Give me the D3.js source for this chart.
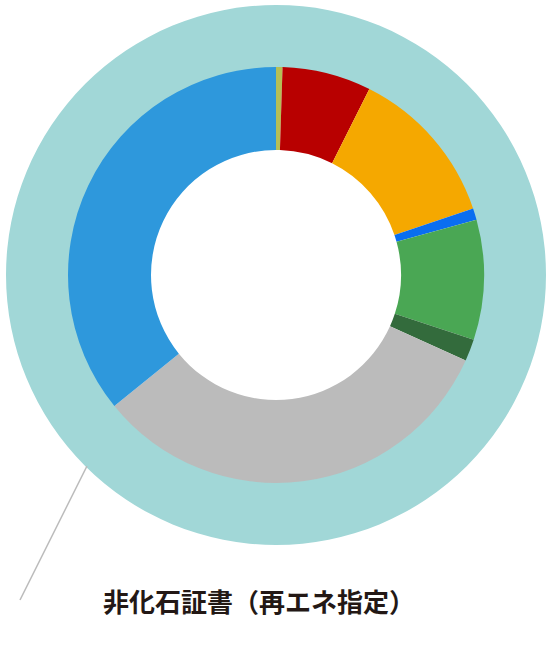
<!DOCTYPE html>
<html><head><meta charset="utf-8">
<script src="https://cdn.jsdelivr.net/npm/d3@7"></script>
<style>html,body{margin:0;padding:0;background:#fff;}</style>
</head><body>
<svg id="c" width="554" height="658"></svg>
<script>
const categories = ["olive","red","orange","blueThin","green","darkGreen","gray","blue"];
const values = [0.5, 6.9, 12.4, 0.9, 9.3, 1.7, 32.4, 35.8];
const colors = ["#b5bf55","#b80000","#f5a800","#0a6ef0","#4aa754","#336b3c","#bbbbbb","#2e98dc"];
const outerLabel = "非化石証書（再エネ指定）";
const outerValues = [100];

const svg = d3.select("#c");
const cx = 276, cy = 275;
const g = svg.append("g").attr("transform", `translate(${cx},${cy})`);

// outer ring (full)
const outerPie = d3.pie().sort(null)(outerValues);
g.selectAll("path.outer").data(outerPie).join("path")
  .attr("class","outer")
  .attr("d", d3.arc().innerRadius(207).outerRadius(270))
  .attr("fill", "#a1d7d7");

// inner donut
const pie = d3.pie().sort(null).value(d => d)(values);
const arc = d3.arc().innerRadius(125).outerRadius(208);
g.selectAll("path.seg").data(pie).join("path")
  .attr("class","seg")
  .attr("d", arc)
  .attr("fill", (d,i) => colors[i]);

// leader line
svg.append("line")
  .attr("x1", 20).attr("y1", 600).attr("x2", 87).attr("y2", 466)
  .attr("stroke", "#bbbbbb").attr("stroke-width", 1.5);

svg.append("text")
  .attr("x", 103).attr("y", 612)
  .attr("font-family", "'Noto Sans CJK JP', sans-serif")
  .attr("font-weight", "bold")
  .attr("font-size", 26)
  .attr("fill", "#231815")
  .text(outerLabel);
</script>
</body></html>
